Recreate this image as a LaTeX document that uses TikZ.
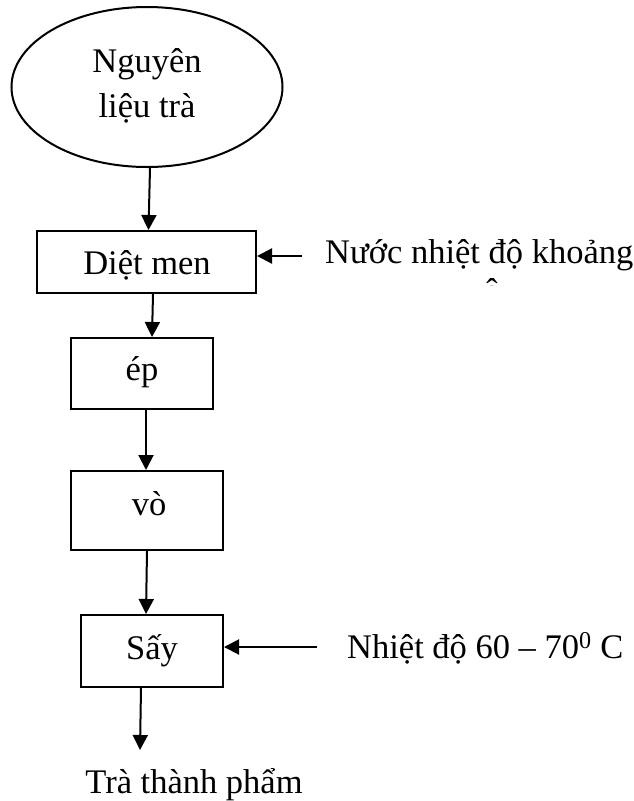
\documentclass[tikz,border=0pt]{standalone}
\usepackage{fontspec}
\setmainfont{Liberation Serif}
\usetikzlibrary{shapes.geometric,arrows.meta}
\begin{document}
\begin{tikzpicture}[x=1pt,y=-1pt,
  every node/.style={font=\fontsize{34.5}{45}\selectfont, inner sep=0pt},
  stepbox/.style={draw, line width=2pt, rectangle},
  flow/.style={line width=2pt, -{Triangle[length=15pt,width=15pt]}},
]
\useasboundingbox (0,0) rectangle (634,801);
\node[draw, ellipse, line width=2pt, minimum width=271pt, minimum height=160pt] (raw) at (147,87) {};
\node[anchor=base] (rawa) at (147,72) {Nguyên};
\node[anchor=base] (rawb) at (147,117) {liệu trà};
\node[stepbox, minimum width=219pt, minimum height=62pt] (dm) at (146.5,262) {};
\node[anchor=base] (dmt) at (147,274) {Diệt men};
\node[stepbox, minimum width=142pt, minimum height=71pt] (ep) at (142,373.5) {};
\node[anchor=base] (ept) at (142,380) {ép};
\node[stepbox, minimum width=152pt, minimum height=79pt] (vo) at (147,510.5) {};
\node[anchor=base] (vot) at (149,515) {vò};
\node[stepbox, minimum width=142pt, minimum height=72pt] (say) at (152,651) {};
\node[anchor=base] (sayt) at (152,659) {Sấy};
\node[anchor=base] (prod) at (194,793) {Trà thành phẩm};
\coordinate (pe) at (140,750);

\node[anchor=base west] (water) at (325,263) {Nước nhiệt độ khoảng};
\coordinate (ws) at (302,256);
\node[anchor=base west] (heat) at (347,658) {Nhiệt độ 60 – 70\textsuperscript{0} C};
\coordinate (hs) at (317,647);

\begin{scope}
\clip (470,270) rectangle (520,285.5);
\node[anchor=base] (hat) at (492,302) {ô};
\end{scope}

\draw[flow] ([xshift=3pt]raw.south) -- ([xshift=2pt]dm.north);
\draw[flow] ([xshift=6.5pt]dm.south) -- ([xshift=10pt]ep.north);
\draw[flow] ([xshift=4pt]ep.south) -- ([xshift=-1pt]vo.north);
\draw[flow] (vo.south) -- ([xshift=-6pt]say.north);
\draw[flow] ([xshift=-11pt]say.south) -- (pe);
\draw[flow] (ws) -- (dm.east |- ws);
\draw[flow] (hs) -- (say.east |- hs);
\end{tikzpicture}
\end{document}
